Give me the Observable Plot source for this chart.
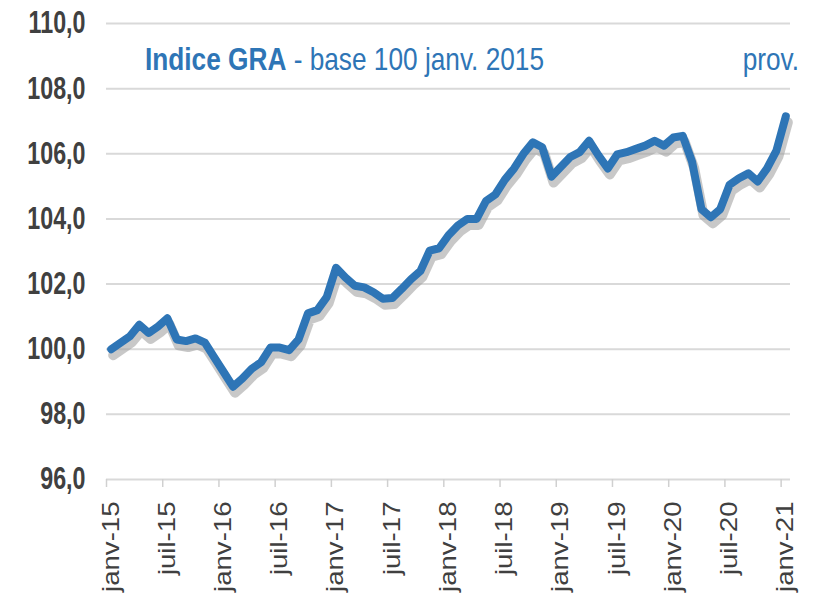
<!DOCTYPE html>
<html><head><meta charset="utf-8">
<script src="https://cdn.jsdelivr.net/npm/d3@7"></script>
<script src="https://cdn.jsdelivr.net/npm/@observablehq/plot@0.6"></script>
<style>
body{margin:0;background:#fff;}
</style></head><body><div id="chart"></div>
<script>
// Monthly values, janv-15 .. janv-21 (73 months)
const values = [
  100.0, 100.2, 100.4, 100.75, 100.5, 100.7, 100.95, 100.3, 100.25, 100.33, 100.2, 99.75,
  99.3, 98.85, 99.1, 99.4, 99.6, 100.05, 100.05, 99.97, 100.3, 101.1, 101.2, 101.6,
  102.5, 102.2, 101.95, 101.9, 101.75, 101.55, 101.57, 101.85, 102.15, 102.4, 103.03, 103.1,
  103.5, 103.8, 104.0, 104.0, 104.55, 104.75, 105.2, 105.55, 106.0, 106.35, 106.2, 105.3,
  105.6, 105.9, 106.05, 106.4, 105.95, 105.55, 105.98, 106.05, 106.15, 106.25, 106.4, 106.25,
  106.5, 106.55, 105.75, 104.3, 104.05, 104.3, 105.05, 105.25, 105.4, 105.15, 105.55, 106.1,
  107.15
];
const tickIndex = [0, 6, 12, 18, 24, 30, 36, 42, 48, 54, 60, 66, 72];
const tickLabels = ["janv-15","juil-15","janv-16","juil-16","janv-17","juil-17","janv-18","juil-18","janv-19","juil-19","janv-20","juil-20","janv-21"];
const yTicks = [96, 98, 100, 102, 104, 106, 108, 110];
const titleBold = "Indice GRA";
const titleRest = " - base 100 janv. 2015";
const noteText = "prov.";

const data = values.map((v, i) => ({i, v}));
const sans = `"Liberation Sans", Arial, sans-serif`;
const blue = "#2E75B6";

const plot = Plot.plot({
  width: 816, height: 596,
  marginTop: 23, marginBottom: 117, marginLeft: 106, marginRight: 26,
  x: {domain: [-0.5, 72.5], axis: null},
  y: {domain: [96, 110], axis: null},
  style: {background: "#fff", fontFamily: sans},
  marks: [
    Plot.ruleY(yTicks, {stroke: "#d9d9d9", strokeWidth: 2}),
    Plot.axisY({ticks: yTicks, label: null, tickSize: 0, tickPadding: 21,
      tickFormat: d => d.toFixed(1).replace(".", ","),
      fontSize: 31, fontWeight: "bold", fill: "#404040"}),
    Plot.axisX({ticks: tickIndex.map(i => i - 0.5), label: null, tickSize: 8, tickFormat: () => "", stroke: "#d0d0d0", strokeWidth: 1.5}),
    Plot.axisX({ticks: tickIndex, label: null, tickSize: 0, tickPadding: 22, tickRotate: -90,
      tickFormat: i => tickLabels[tickIndex.indexOf(i)],
      fontSize: 23, fill: "#404040"}),
    Plot.line(data, {x: "i", y: "v", stroke: "#9a9a9a", strokeWidth: 10, strokeOpacity: 0.55, dx: 2, dy: 6, strokeLinejoin: "round", strokeLinecap: "round"}),
    Plot.line(data, {x: "i", y: "v", stroke: blue, strokeWidth: 8, strokeLinejoin: "round", strokeLinecap: "round"})
  ]
});

document.getElementById("chart").appendChild(plot);
const svg = d3.select(plot);

// squeeze / stretch text along its own direction (reference picture is stretched vertically)
function wrapScale(sel, sx, sy, anchorFn) {
  sel.each(function() {
    const r = this.getBoundingClientRect();
    const [ax, ay] = anchorFn(r);
    const parent = this.parentNode;
    const m = parent.getScreenCTM().inverse();
    const p = new DOMPoint(ax, ay).matrixTransform(m);
    const g = document.createElementNS("http://www.w3.org/2000/svg", "g");
    g.setAttribute("transform", `translate(${p.x},${p.y}) scale(${sx},${sy}) translate(${-p.x},${-p.y})`);
    parent.insertBefore(g, this);
    g.appendChild(this);
  });
}
wrapScale(svg.selectAll('g[aria-label="y-axis tick label"] text'), 0.75, 1, r => [r.right, r.top + r.height / 2]);
wrapScale(svg.selectAll('g[aria-label="x-axis tick label"] text').filter(function() { return this.textContent !== ""; }), 1, 1.2, r => [r.left + r.width / 2, r.top]);

// title inside plot
const t = svg.append("text").attr("transform", "translate(145,70) scale(0.82,1)")
  .attr("text-anchor", "start").attr("font-family", sans).attr("font-size", 32).attr("fill", blue);
t.append("tspan").attr("font-weight", "bold").text(titleBold);
t.append("tspan").text(titleRest);
svg.append("text").attr("transform", "translate(799,70) scale(0.82,1)").attr("text-anchor", "end")
  .attr("font-family", sans).attr("font-size", 32).attr("fill", blue).text(noteText);
</script>
</body></html>
